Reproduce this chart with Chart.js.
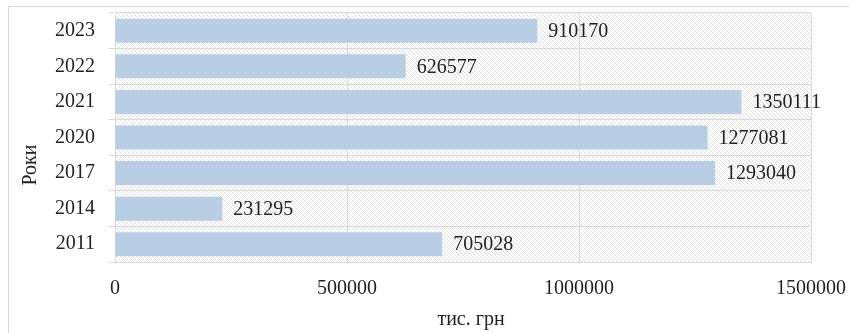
<!DOCTYPE html>
<html>
<head>
<meta charset="utf-8">
<script src="https://cdn.jsdelivr.net/npm/chart.js@4"></script>
<style>
  html,body{margin:0;padding:0;background:#fff;}
  #wrap{width:849px;height:333px;position:relative;}
</style>
</head>
<body>
<div id="wrap"><canvas id="c" width="849" height="333"></canvas></div>
<script>
// Data
const years = ['2023','2022','2021','2020','2017','2014','2011'];
const values = [910170, 626577, 1350111, 1277081, 1293040, 231295, 705028];
const xTicks = [0, 500000, 1000000, 1500000];
const yTitle = 'Роки';
const xTitle = 'тис. грн';

const FONT = "'Liberation Serif', 'Times New Roman', serif";
const GRID = '#d9d9d9';
const TEXT = '#222';

// Hatch pattern for plot background
function hatch(){
  const p = document.createElement('canvas');
  p.width = 4; p.height = 4;
  const g = p.getContext('2d');
  g.fillStyle = '#fff'; g.fillRect(0,0,4,4);
  g.strokeStyle = '#dedede'; g.lineWidth = 1;
  g.beginPath();
  g.moveTo(-1,-1); g.lineTo(5,5);
  g.moveTo(-1,3); g.lineTo(1,5);
  g.moveTo(3,-1); g.lineTo(5,1);
  g.stroke();
  return p;
}

const plotBg = {
  id:'plotBg',
  beforeDraw(chart){
    const {ctx, chartArea:a} = chart;
    ctx.save();
    ctx.strokeStyle = GRID; ctx.lineWidth = 1;
    ctx.strokeRect(8.5, 6.5, 860, 360);
    ctx.fillStyle = ctx.createPattern(hatch(), 'repeat');
    ctx.fillRect(a.left, a.top, a.right-a.left, a.bottom-a.top);
    ctx.restore();
  }
};

// Value labels + axis titles
const labels = {
  id:'labels',
  afterDatasetsDraw(chart){
    const {ctx} = chart;
    const meta = chart.getDatasetMeta(0);
    ctx.save();
    ctx.font = `20px ${FONT}`;
    ctx.fillStyle = TEXT;
    ctx.textBaseline = 'middle';
    ctx.textAlign = 'left';
    meta.data.forEach((bar,i)=>{
      ctx.fillText(String(values[i]), bar.x + 11, bar.y + 1);
    });
    ctx.restore();
  },
  afterDraw(chart){
    const {ctx} = chart;
    ctx.save();
    ctx.font = `20px ${FONT}`;
    ctx.fillStyle = TEXT;
    ctx.textAlign = 'center';
    ctx.textBaseline = 'middle';
    ctx.fillText(xTitle, 471, 320);
    ctx.translate(31, 165);
    ctx.rotate(-Math.PI/2);
    ctx.fillText(yTitle, 0, 0);
    ctx.restore();
  }
};

new Chart(document.getElementById('c'), {
  type:'bar',
  data:{ labels: years, datasets:[{ data: values, backgroundColor:'#b9cde5', borderWidth:0, categoryPercentage:1, barPercentage:0.675 }]},
  options:{
    indexAxis:'y',
    responsive:false,
    animation:false,
    layout:{ padding:{ top:13, right:38, left:0, bottom:0 }},
    plugins:{ legend:{ display:false }, tooltip:{ enabled:false }},
    scales:{
      x:{
        min:0, max:1500000,
        afterBuildTicks: s=>{ s.ticks = xTicks.map(v=>({value:v})); },
        afterFit: s=>{ s.height = 71; s.paddingLeft = 0; s.paddingRight = 0; },
        grid:{ color:GRID, drawTicks:false },
        border:{ color:GRID },
        ticks:{ color:TEXT, font:{ family:FONT, size:20 }, padding:15, callback: v=> String(v), maxRotation:0 }
      },
      y:{
        afterFit: s=>{ s.width = 115; s.paddingTop = 0; s.paddingBottom = 0; },
        grid:{ color:GRID, tickLength:7 },
        border:{ color:GRID },
        ticks:{ color:TEXT, font:{ family:FONT, size:20 }, padding:13 }
      }
    }
  },
  plugins:[plotBg, labels]
});
</script>
</body>
</html>
